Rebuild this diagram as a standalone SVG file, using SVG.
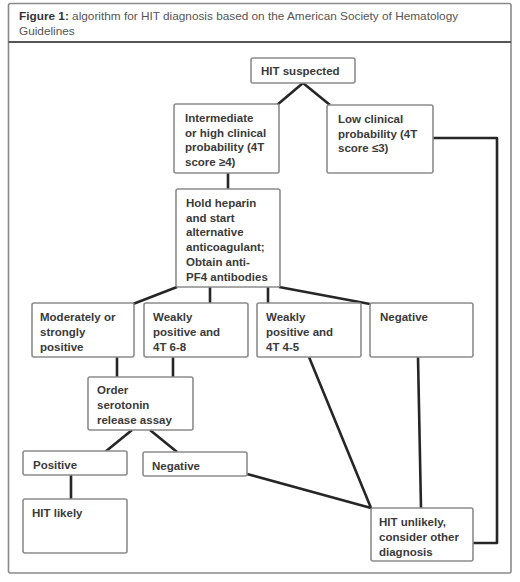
<svg xmlns="http://www.w3.org/2000/svg" width="520" height="582" viewBox="0 0 520 582">
<style>
.frame{fill:#fff;stroke:#8a8a8a;stroke-width:1.6}
.div{stroke:#555;stroke-width:2.2}
.box{fill:#fff;stroke:#8c8c8c;stroke-width:1.6}
.t{font-family:"Liberation Sans",Arial,sans-serif;font-size:11.5px;font-weight:bold;fill:#3a3a3a}
.title{font-family:"Liberation Sans",Arial,sans-serif;font-size:11.8px;fill:#555}
.title .b{font-weight:bold;fill:#333}
.c{fill:none;stroke:#262626;stroke-width:2.6;stroke-linejoin:round}
</style>
<rect width="520" height="582" fill="#fff"/>
<rect class="frame" x="8.5" y="3.5" width="502.5" height="569.5" rx="2"/>
<line class="div" x1="8.5" y1="42" x2="511" y2="42"/>
<text class="title" x="19" y="20"><tspan class="b">Figure 1:</tspan> algorithm for HIT diagnosis based on the American Society of Hematology</text>
<text class="title" x="19" y="35">Guidelines</text>
<g id="connectors">
<polyline class="c" points="277,105 303,83 330,105"/>
<line class="c" x1="228" y1="173" x2="228" y2="189"/>
<polyline class="c" points="433,138 497,138 497,543 473,543"/>
<line class="c" x1="177" y1="287" x2="133" y2="304"/>
<line class="c" x1="210" y1="287" x2="210" y2="303"/>
<line class="c" x1="268" y1="287" x2="268" y2="303"/>
<line class="c" x1="279" y1="287" x2="370" y2="304"/>
<line class="c" x1="117" y1="357" x2="117" y2="377"/>
<line class="c" x1="173" y1="357" x2="173" y2="377"/>
<line class="c" x1="132" y1="430" x2="105" y2="452"/>
<line class="c" x1="150" y1="430" x2="177" y2="452"/>
<line class="c" x1="71" y1="475" x2="71" y2="499"/>
<polyline class="c" points="247,474 371,508"/>
<line class="c" x1="309" y1="357" x2="371" y2="508"/>
<line class="c" x1="418" y1="357" x2="421" y2="508"/>
</g>
<g id="hit-suspected"><rect class="box" x="251" y="58" width="104" height="25" rx="2"/><text class="t" x="261" y="75">HIT suspected</text></g>
<g id="intermediate"><rect class="box" x="174" y="104" width="105" height="69" rx="2"/><text class="t" x="185"><tspan x="185" y="122">Intermediate</tspan><tspan x="185" y="136.5">or high clinical</tspan><tspan x="185" y="151">probability (4T</tspan><tspan x="185" y="165.5">score ≥4)</tspan></text></g>
<g id="low-clinical"><rect class="box" x="327" y="105" width="106" height="68" rx="2"/><text class="t"><tspan x="338" y="123">Low clinical</tspan><tspan x="338" y="137.5">probability (4T</tspan><tspan x="338" y="152">score ≤3)</tspan></text></g>
<g id="hold-heparin"><rect class="box" x="176" y="189" width="104" height="98" rx="2"/><text class="t"><tspan x="186" y="207">Hold heparin</tspan><tspan x="186" y="221.7">and start</tspan><tspan x="186" y="236.4">alternative</tspan><tspan x="186" y="251.1">anticoagulant;</tspan><tspan x="186" y="265.8">Obtain anti-</tspan><tspan x="186" y="280.5">PF4 antibodies</tspan></text></g>
<g id="moderately"><rect class="box" x="32" y="303" width="102" height="54" rx="2"/><text class="t"><tspan x="40" y="321">Moderately or</tspan><tspan x="40" y="336">strongly</tspan><tspan x="40" y="351">positive</tspan></text></g>
<g id="weakly-68"><rect class="box" x="144" y="303" width="104" height="54" rx="2"/><text class="t"><tspan x="153" y="321">Weakly</tspan><tspan x="153" y="336">positive and</tspan><tspan x="153" y="351">4T 6-8</tspan></text></g>
<g id="weakly-45"><rect class="box" x="257" y="303" width="104" height="54" rx="2"/><text class="t"><tspan x="266" y="321">Weakly</tspan><tspan x="266" y="336">positive and</tspan><tspan x="266" y="351">4T 4-5</tspan></text></g>
<g id="negative-pf4"><rect class="box" x="370" y="303" width="103" height="54" rx="2"/><text class="t" x="380" y="321">Negative</text></g>
<g id="sra"><rect class="box" x="88" y="377" width="105" height="53" rx="2"/><text class="t"><tspan x="97" y="394">Order</tspan><tspan x="97" y="409">serotonin</tspan><tspan x="97" y="424">release assay</tspan></text></g>
<g id="positive"><rect class="box" x="23" y="451" width="104" height="24" rx="2"/><text class="t" x="33" y="469">Positive</text></g>
<g id="negative-sra"><rect class="box" x="143" y="452" width="104" height="24" rx="2"/><text class="t" x="152" y="470">Negative</text></g>
<g id="hit-likely"><rect class="box" x="23" y="499" width="104" height="54" rx="2"/><text class="t" x="32" y="517">HIT likely</text></g>
<g id="hit-unlikely"><rect class="box" x="371" y="508" width="102" height="53" rx="2"/><text class="t"><tspan x="379" y="526">HIT unlikely,</tspan><tspan x="379" y="541">consider other</tspan><tspan x="379" y="556">diagnosis</tspan></text></g>
</svg>
